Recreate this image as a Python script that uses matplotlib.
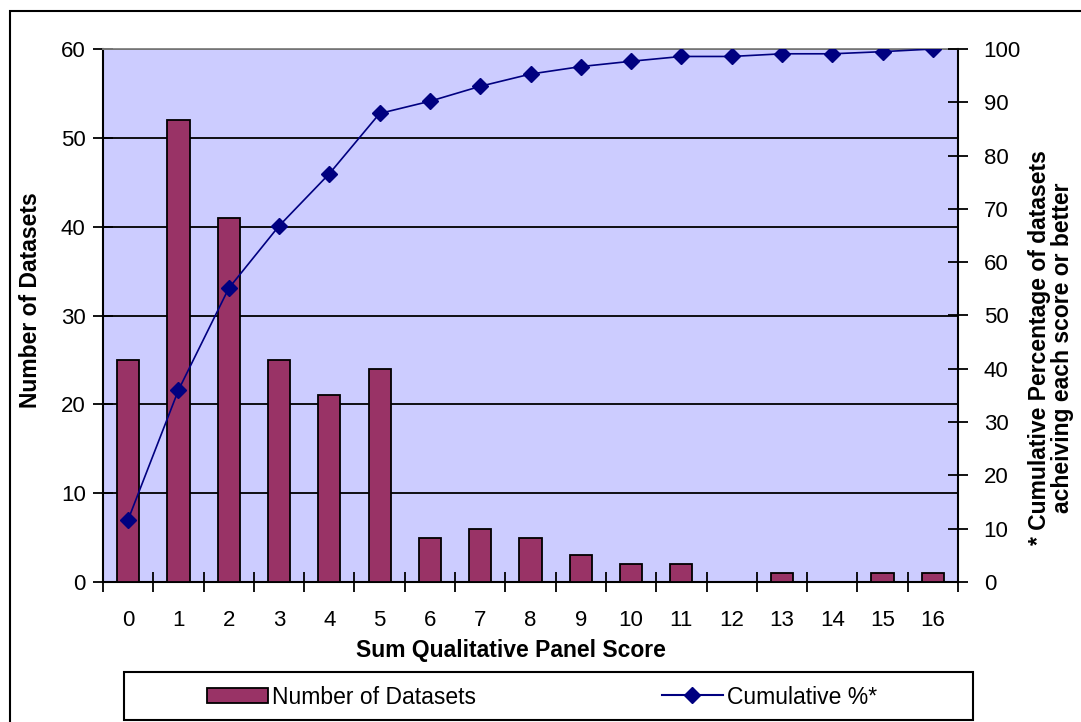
import matplotlib
matplotlib.use("Agg")
import matplotlib.pyplot as plt
from matplotlib.patches import Rectangle
from matplotlib.lines import Line2D
import numpy as np

plt.rcParams['font.family'] = ['Liberation Sans', 'DejaVu Sans']

scores = list(range(17))
score_labels = [str(s) for s in scores]
num_datasets = [25, 52, 41, 25, 21, 24, 5, 6, 5, 3, 2, 2, 0, 1, 0, 1, 1]
cumulative_pct = [11.7, 36.0, 55.1, 66.8, 76.6, 87.9, 90.2, 93.0, 95.3, 96.7,
                  97.7, 98.6, 98.6, 99.1, 99.1, 99.5, 100.0]
left_ticks = [0, 10, 20, 30, 40, 50, 60]
right_ticks = [0, 10, 20, 30, 40, 50, 60, 70, 80, 90, 100]

W, H = 1081, 722
fig = plt.figure(figsize=(W / 100, H / 100), dpi=100)
fig.patch.set_facecolor('white')

# outer chart frame
fig.patches.append(Rectangle((10 / W, -0.05), 1.2, (H - 11) / H + 0.05,
                             transform=fig.transFigure, fill=False,
                             edgecolor='black', linewidth=1.5))

x0, x1, y0, y1 = 103, 958, 49, 582
ax = fig.add_axes([x0 / W, 1 - y1 / H, (x1 - x0) / W, (y1 - y0) / H])
ax.set_facecolor('#CCCCFF')

ax.bar(scores, num_datasets, width=0.44, color='#993366', edgecolor='black',
       linewidth=1.3, zorder=3)
ax.set_xlim(-0.5, 16.5)
ax.set_ylim(0, 60)
ax.set_yticks(left_ticks)
ax.yaxis.grid(True, color='black', linewidth=1.3, zorder=1)
ax.set_axisbelow(True)
ax.set_xticks(scores)
ax.set_xticklabels(score_labels)
ax.set_xticks(np.arange(-0.5, 17, 1), minor=True)
ax.tick_params(axis='x', which='major', length=0, pad=20, labelsize=16)
ax.tick_params(axis='x', which='minor', direction='inout', length=15, width=1.3)
ax.tick_params(axis='y', direction='inout', length=15, width=1.3, labelsize=16, pad=5)
for s in ['left', 'right', 'bottom']:
    ax.spines[s].set_linewidth(1.5)
    ax.spines[s].set_color('black')
ax.spines['top'].set_color('#808080')
ax.spines['top'].set_linewidth(1.3)

ax2 = ax.twinx()
ax2.plot(scores, cumulative_pct, color='#000080', linewidth=1.2, marker='D',
         markersize=8, zorder=5)
ax2.set_ylim(0, 100)
ax2.set_yticks(right_ticks)
ax2.tick_params(axis='y', direction='inout', length=15, width=1.3, labelsize=16, pad=11)
for s in ax2.spines.values():
    s.set_visible(False)

# axis titles
fig.text(31 / W, 1 - 300 / H, 'Number of Datasets', rotation=90, ha='center',
         va='center', fontsize=16.5, fontweight='bold')
fig.text(511 / W, 1 - 650 / H, 'Sum Qualitative Panel Score', ha='center',
         va='center', fontsize=16.5, fontweight='bold')
fig.text(1051 / W, 1 - 348 / H,
         '* Cumulative Percentage of datasets\nacheiving each score or better',
         rotation=90, ha='center', va='center', fontsize=16.5,
         fontweight='bold', linespacing=1.05, multialignment='center')

# legend box
fig.patches.append(Rectangle((124 / W, 1 - 720 / H), (973 - 124) / W, (720 - 672) / H,
                             transform=fig.transFigure, fill=True,
                             facecolor='white', edgecolor='black', linewidth=1.5))
h1 = Rectangle((0, 0), 1, 1, facecolor='#993366', edgecolor='black', linewidth=1.3)
h2 = Line2D([], [], color='#000080', linewidth=1.5, marker='D', markersize=8)
leg1 = fig.legend([h1], ['Number of Datasets'], loc='center left',
                  bbox_to_anchor=(207 / W, 1 - 697 / H), frameon=False,
                  fontsize=16.5, handlelength=2.65, handleheight=0.6,
                  handletextpad=0.2, borderpad=0, borderaxespad=0)
leg2 = fig.legend([h2], ['Cumulative %*'], loc='center left',
                  bbox_to_anchor=(662 / W, 1 - 697 / H), frameon=False,
                  fontsize=16.5, handlelength=2.65, handletextpad=0.2,
                  borderpad=0, borderaxespad=0)

fig.savefig('out.png', dpi=100)
